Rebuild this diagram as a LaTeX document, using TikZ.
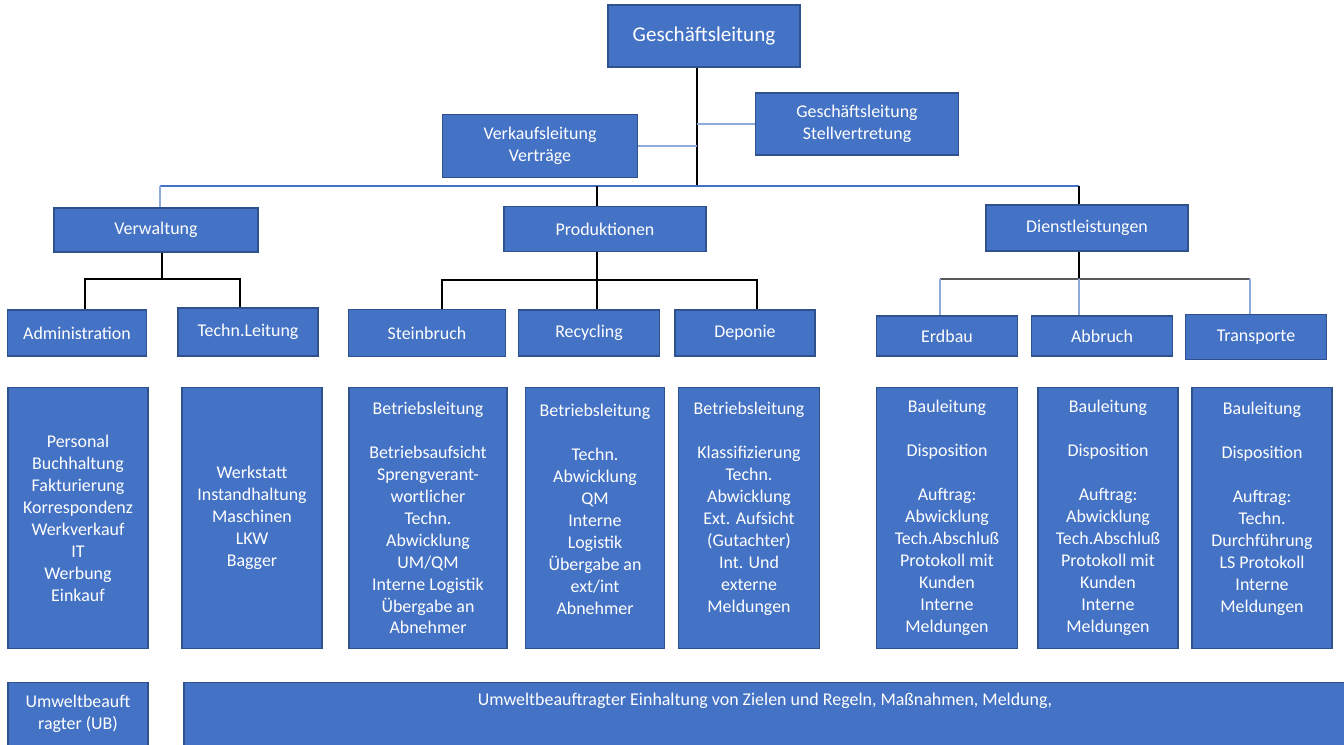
\documentclass[tikz,border=0pt]{standalone}
\usepackage{fontspec}
\setmainfont{Carlito}
\usepackage{tikz}
\usepackage{xcolor}
\definecolor{boxblue}{HTML}{4472C4}
\definecolor{borderblue}{HTML}{2F528F}
\definecolor{barblue}{HTML}{4472C4}
\definecolor{linkblue}{HTML}{8FAADC}
\tikzstyle{unit} = [rectangle, draw=borderblue, line width=0.8pt, fill=boxblue, text=white, align=center, inner sep=0pt, font=\fontsize{10.2}{12.5}\selectfont]
\tikzstyle{small} = [unit, minimum width=2.8cm, minimum height=0.92cm]
\tikzstyle{wide} = [unit, minimum width=4.04cm, minimum height=0.9cm]
\tikzstyle{detail} = [unit, minimum width=2.8cm, minimum height=5.22cm]
\tikzstyle{line} = [line width=0.7pt, black]
\tikzstyle{blueline} = [line width=0.7pt, barblue]
\tikzstyle{thinblue} = [line width=0.6pt, linkblue]

\begin{document}
\begin{tikzpicture}[x=0.02cm, y=-0.02cm]
    \useasboundingbox (0,0) rectangle (1344,744);

        % Nodes
        \node (gl) [unit, minimum width=3.84cm, minimum height=1.24cm, font=\fontsize{12}{14}\selectfont] at (704,36) {Geschäftsleitung};
        \node (verkauf) [unit, minimum width=3.9cm, minimum height=1.26cm] at (540,146) {Verkaufsleitung\\Verträge};
        \node (stellv) [unit, minimum width=4.06cm, minimum height=1.24cm] at (857,124) {Geschäftsleitung\\Stellvertretung};

        \node (verw) [wide, minimum width=4.08cm, minimum height=0.88cm] at (156,230) {Verwaltung};
        \node (prod) [wide] at (605,229) {Produktionen};
        \node (dienst) [wide, minimum height=0.92cm] at (1087,228) {Dienstleistungen};

        \node (admin) [small, minimum width=2.78cm] at (77,333) {Administration};
        \node (techl) [small, minimum height=0.96cm] at (248,332) {Techn.Leitung};
        \node (stein) [small, minimum width=3.14cm, minimum height=0.94cm] at (427,333) {Steinbruch};
        \node (recyc) [small, minimum width=2.82cm] at (589,333) {Recycling};
        \node (depon) [small] at (745,333) {Deponie};
        \node (erdbau) [small, minimum width=2.82cm, minimum height=0.8cm] at (947,336) {Erdbau};
        \node (abbruch) [small, minimum width=2.82cm, minimum height=0.8cm] at (1102,336) {Abbruch};
        \node (transp) [small, minimum width=2.82cm, minimum height=0.9cm] at (1256,337) {Transporte};

        \node (admintasks) [detail] at (78,518) {Personal\\Buchhaltung\\Fakturierung\\Korrespondenz\\Werkverkauf\\IT\\Werbung\\Einkauf};
        \node (techltasks) [detail] at (252,518) {Werkstatt\\Instandhaltung\\Maschinen\\LKW\\Bagger};
        \node (steintasks) [detail, minimum width=3.16cm] at (428,518) {Betriebsleitung\\[12.5pt]Betriebsaufsicht\\Sprengverant-\\wortlicher\\Techn.\\Abwicklung\\UM/QM\\Interne Logistik\\Übergabe an\\Abnehmer};
        \node (recyctasks) [detail, minimum width=2.78cm, text depth=0.36cm] at (595,518) {Betriebsleitung\\[12.5pt]Techn.\\Abwicklung\\QM\\Interne\\Logistik\\Übergabe an\\ext/int\\Abnehmer};
        \node (epontasks) [detail, minimum width=2.82cm, text depth=0.43cm] at (749,518) {Betriebsleitung\\[12.5pt]Klassifizierung\\Techn.\\Abwicklung\\Ext. Aufsicht\\(Gutachter)\\Int. Und\\externe\\Meldungen};
        \node (erdbautasks) [detail, minimum width=2.82cm] at (947,518) {Bauleitung\\[12.5pt]Disposition\\[12.5pt]Auftrag:\\Abwicklung\\Tech.Abschluß\\Protokoll mit\\Kunden\\Interne\\Meldungen};
        \node (abbruchtasks) [detail] at (1108,518) {Bauleitung\\[12.5pt]Disposition\\[12.5pt]Auftrag:\\Abwicklung\\Tech.Abschluß\\Protokoll mit\\Kunden\\Interne\\Meldungen};
        \node (transptasks) [detail, text depth=0.43cm] at (1262,518) {Bauleitung\\[12.5pt]Disposition\\[12.5pt]Auftrag:\\Techn.\\Durchführung\\LS Protokoll\\Interne\\Meldungen};

        \node (ub) [unit, minimum width=2.8cm, minimum height=1.26cm] at (78,714) {Umweltbeauft\\ragter (UB)};
        \node (umwelt) [unit, minimum width=23.24cm, minimum height=1.26cm, text depth=0.59cm] at (765,714) {Umweltbeauftragter Einhaltung von Zielen und Regeln, Maßnahmen, Meldung,};

        % Lines
        \coordinate (glfoot) at (697,186);
        \coordinate (barleft) at (160,186);
        \coordinate (barright) at (1079,186);
        \coordinate (prodtop) at (597,186);
        \draw [line] (gl.south -| glfoot) -- (glfoot);
        \draw [thinblue] (verkauf.east) -- (verkauf.east -| glfoot);
        \draw [thinblue] (stellv.west) -- (stellv.west -| glfoot);
        \draw [blueline] (barleft) -- (barright);
        \draw [thinblue] (barleft) -- (barleft |- verw.north);
        \draw [line] (prodtop) -- (prodtop |- prod.north);
        \draw [line] (barright) -- (barright |- dienst.north);

        \coordinate (vl) at (85,279);
        \coordinate (vm) at (162,279);
        \coordinate (vr) at (240,279);
        \draw [line] (vm |- verw.south) -- (vm);
        \draw [line] (vl |- admin.north) -- (vl) -- (vr) -- (vr |- techl.north);

        \coordinate (pl) at (442,280);
        \coordinate (pm) at (597,280);
        \coordinate (pr) at (757,280);
        \draw [line] (pm |- prod.south) -- (pm |- recyc.north);
        \draw [line] (pl |- stein.north) -- (pl) -- (pr) -- (pr |- depon.north);

        \coordinate (dl) at (940,279);
        \coordinate (dm) at (1079,279);
        \coordinate (dr) at (1250,279);
        \draw [line] (dm |- dienst.south) -- (dm);
        \draw [line, gray!70!black] (dl) -- (dr);
        \draw [thinblue] (dl) -- (dl |- erdbau.north);
        \draw [thinblue] (dm) -- (dm |- abbruch.north);
        \draw [thinblue] (dr) -- (dr |- transp.north);

    \end{tikzpicture}
\end{document}
